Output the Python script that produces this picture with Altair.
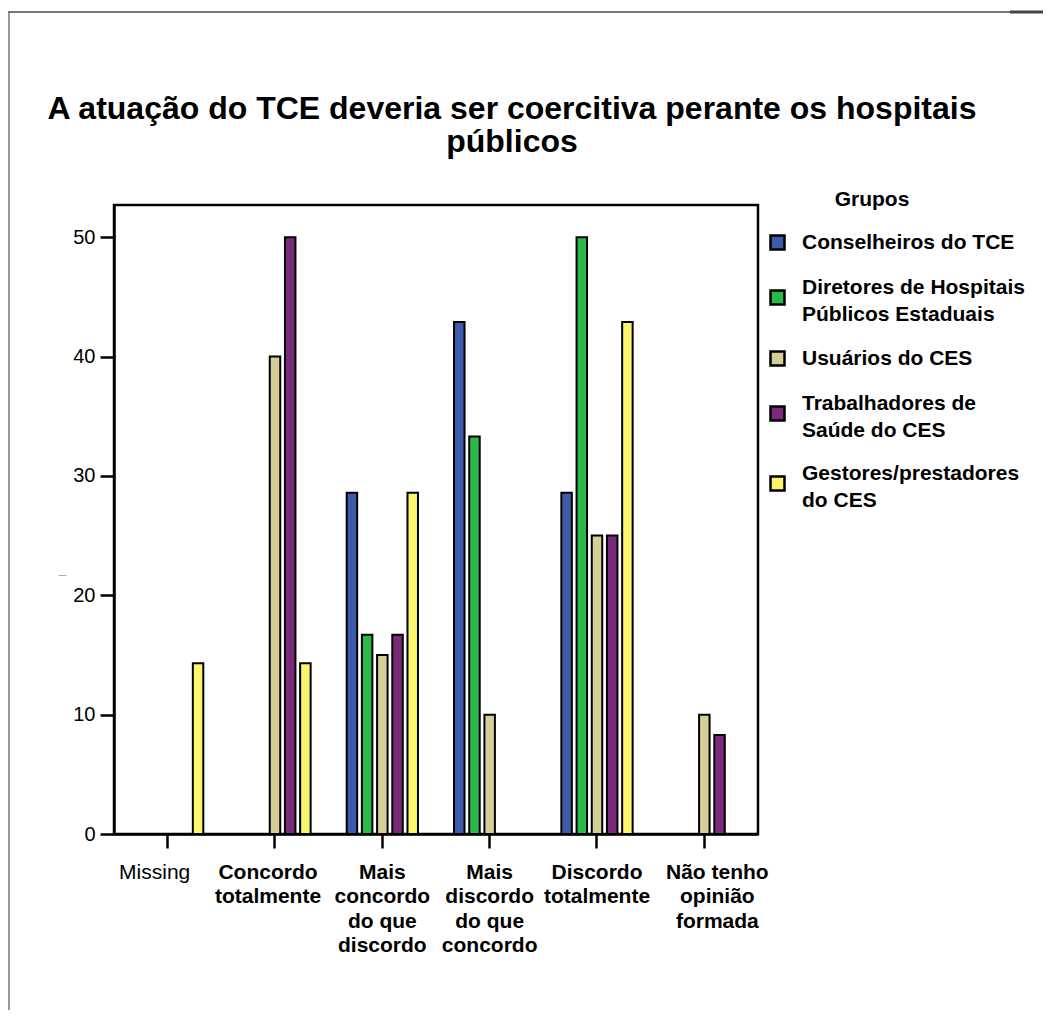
import altair as alt
import pandas as pd

FONT = "Liberation Sans, Arial, Helvetica, sans-serif"

title_lines = ["A atuação do TCE deveria ser coercitiva perante os hospitais", "públicos"]
legend_title = "Grupos"

categories = [
    "Missing",
    "Concordo totalmente",
    "Mais concordo do que discordo",
    "Mais discordo do que concordo",
    "Discordo totalmente",
    "Não tenho opinião formada",
]
category_lines = [
    ["Missing"],
    ["Concordo", "totalmente"],
    ["Mais", "concordo", "do que", "discordo"],
    ["Mais", "discordo", "do que", "concordo"],
    ["Discordo", "totalmente"],
    ["Não tenho", "opinião", "formada"],
]

groups = [
    "Conselheiros do TCE",
    "Diretores de Hospitais Públicos Estaduais",
    "Usuários do CES",
    "Trabalhadores de Saúde do CES",
    "Gestores/prestadores do CES",
]
group_lines = [
    ["Conselheiros do TCE"],
    ["Diretores de Hospitais", "Públicos Estaduais"],
    ["Usuários do CES"],
    ["Trabalhadores de", "Saúde do CES"],
    ["Gestores/prestadores", "do CES"],
]
colors = ["#3E5BAA", "#2DB84C", "#D4CF96", "#7A2A7B", "#FBF66D"]

conselheiros = [None, None, 28.6, 42.9, 28.6, None]
diretores = [None, None, 16.7, 33.3, 50.0, None]
usuarios = [None, 40.0, 15.0, 10.0, 25.0, 10.0]
trabalhadores = [None, 50.0, 16.7, None, 25.0, 8.3]
gestores = [14.3, 14.3, 28.6, None, 42.9, None]

series = [conselheiros, diretores, usuarios, trabalhadores, gestores]

rows = []
for g, vals in zip(groups, series):
    for c, v in zip(categories, vals):
        if v is not None:
            rows.append({"categoria": c, "grupo": g, "valor": v})
df = pd.DataFrame(rows)


def js(v):
    if isinstance(v, list):
        return "[" + ",".join(js(s) for s in v) + "]"
    return "'" + v + "'"


def build_expr(keys, outs, field="datum.value"):
    expr = js(outs[-1])
    for k, o in reversed(list(zip(keys[:-1], outs[:-1]))):
        expr = f"{field} === '{k}' ? {js(o)} : ({expr})"
    return expr


x_label_expr = build_expr(categories, category_lines)
legend_label_expr = build_expr(groups, group_lines)
legend_baseline_expr = build_expr(
    groups, ["middle" if len(l) == 1 else "bottom" for l in group_lines]
)

bars = alt.Chart(df).mark_bar(stroke="black", strokeWidth=2).encode(
    x=alt.X(
        "categoria:N",
        sort=categories,
        scale=alt.Scale(domain=categories, paddingInner=0.292, paddingOuter=0.146),
        axis=alt.Axis(
            title=None,
            labelAngle=0,
            labelExpr=x_label_expr,
            labelFont=FONT,
            labelFontSize=21,
            labelLineHeight=24.5,
            labelFontWeight={
                "condition": {"test": "datum.value === 'Missing'", "value": "normal"},
                "value": "bold",
            },
            labelOffset={
                "condition": [
                    {"test": "datum.value === 'Missing'", "value": -13},
                    {"test": "datum.value === 'Concordo totalmente'", "value": -7},
                    {"test": "datum.value === 'Não tenho opinião formada'", "value": 13},
                ],
                "value": 0,
            },
            labelColor="black",
            labelPadding=13,
            labelBaseline="top",
            tickSize=14,
            tickWidth=2.5,
            tickColor="black",
            domainColor="black",
            domainWidth=2.5,
        ),
    ),
    xOffset=alt.XOffset(
        "grupo:N",
        sort=groups,
        scale=alt.Scale(domain=groups, paddingInner=0.31, paddingOuter=0.155),
    ),
    y=alt.Y(
        "valor:Q",
        scale=alt.Scale(domain=[0, 52.7], nice=False, zero=True),
        axis=alt.Axis(
            title="—",
            titleFontSize=8,
            titleFontWeight="normal",
            titleColor="#666666",
            titleAngle=0,
            titleAlign="center",
            titleBaseline="middle",
            titleX=-52,
            titleY=369,
            values=[0, 10, 20, 30, 40, 50],
            grid=False,
            labelFont=FONT,
            labelFontSize=20,
            labelColor="black",
            labelPadding=5,
            tickSize=14,
            tickWidth=2.5,
            tickColor="black",
            domainColor="black",
            domainWidth=2.5,
        ),
    ),
    color=alt.Color(
        "grupo:N",
        sort=groups,
        scale=alt.Scale(domain=groups, range=colors),
        legend=alt.Legend(
            title=None,
            orient="none",
            legendX=653,
            legendY=27,
            labelExpr=legend_label_expr,
            labelBaseline=alt.ExprRef(legend_baseline_expr),
            labelFont=FONT,
            labelFontSize=21,
            labelFontWeight="bold",
            labelColor="black",
            labelLimit=400,
            labelOffset=14,
            symbolType="square",
            symbolSize=196,
            symbolStrokeColor="black",
            symbolStrokeWidth=2.5,
            symbolOpacity=1,
            rowPadding=21,
            padding=0,
        ),
    ),
)

one = pd.DataFrame({"k": [0]})
frame_left = alt.Chart(one).mark_rule(color="#999999", strokeWidth=2).encode(
    x=alt.value(-105), y=alt.value(-193), y2=alt.value(830)
)
frame_top = alt.Chart(one).mark_rule(color="#777777", strokeWidth=2).encode(
    x=alt.value(-106), x2=alt.value(935), y=alt.value(-193)
)
frame_top_dark = alt.Chart(one).mark_rule(color="#444444", strokeWidth=3).encode(
    x=alt.value(896), x2=alt.value(935), y=alt.value(-193)
)
title = alt.Chart(one).mark_text(
    font=FONT,
    fontSize=32,
    fontWeight="bold",
    color="black",
    align="center",
    baseline="alphabetic",
    lineHeight=33,
).encode(x=alt.value(398), y=alt.value(-86), text=alt.value(title_lines))
legend_head = alt.Chart(one).mark_text(
    font=FONT,
    fontSize=21,
    fontWeight="bold",
    color="black",
    align="center",
    baseline="middle",
).encode(x=alt.value(758), y=alt.value(-5), text=alt.value(legend_title))

chart = (
    alt.layer(frame_left, frame_top, frame_top_dark, title, legend_head, bars)
    .properties(
        width=644,
        height=629,
        autosize=alt.AutoSizeParams(type="none"),
        padding={"left": 106, "top": 197, "right": 285, "bottom": 176},
    )
    .configure(
        background="white",
        view=alt.ViewConfig(stroke="black", strokeWidth=2.5),
        style={"guide-label": {"lineHeight": 27}},
    )
)

chart.save("out.html", embed_options={"renderer": "svg", "actions": False})
